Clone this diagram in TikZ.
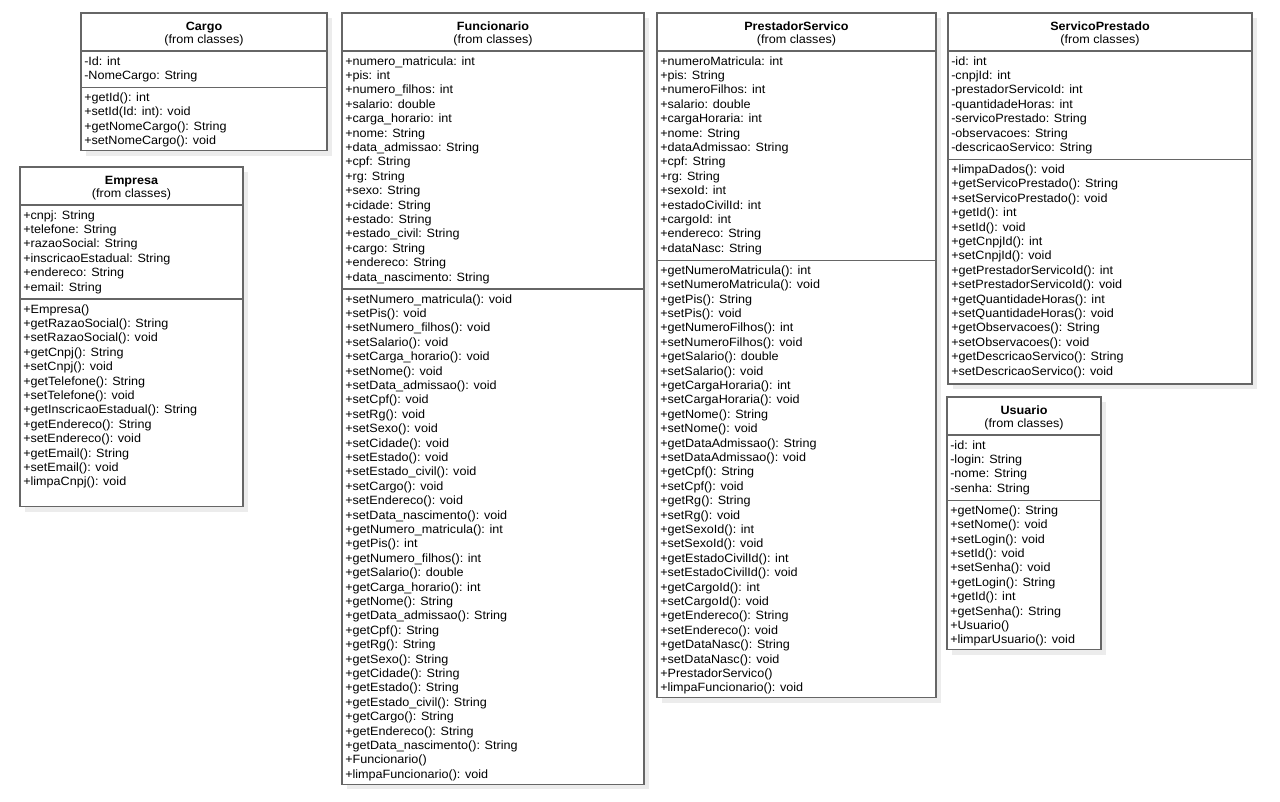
\documentclass[tikz,border=0pt]{standalone}
\usepackage{fontspec}
\setmainfont{Liberation Sans}[FakeStretch=1.05]
\definecolor{bordc}{RGB}{102,102,102}
\definecolor{shadc}{RGB}{236,236,236}
\tikzset{
  boxline/.style={draw=bordc, line width=0.9pt},
  shadowbox/.style={fill=shadc},
  titletext/.style={inner sep=0pt, anchor=base, font=\fontsize{9}{10.8}\selectfont},
  listtext/.style={inner sep=0pt, anchor=base west, font=\fontsize{9}{10.8}\selectfont},
}
% #1 name, #2 left, #3 right, #4 top, #5 n attrs, #6 n ops, #7 extra bottom, #8 attrs, #9 ops
\newcommand{\umlclass}[9]{%
  \pgfmathsetmacro\umlSA{#4+38}%
  \pgfmathsetmacro\umlAO{\umlSA+10}%
  \pgfmathsetmacro\umlSB{\umlAO+(#5-1)*14.4+12}%
  \pgfmathsetmacro\umlMO{\umlSB+10}%
  \pgfmathsetmacro\umlBT{\umlMO+(#6-1)*14.4+10+#7}%
  \pgfmathsetmacro\umlMX{(#2+#3)/2}%
  \fill[shadowbox] (#2+5,#4+5) rectangle (#3+5,\umlBT+5);
  \draw[boxline, fill=white] (#2,#4) rectangle (#3,\umlBT);
  \draw[boxline] (#2,\umlSA) -- (#3,\umlSA);
  \draw[boxline] (#2,\umlSB) -- (#3,\umlSB);
  \node[titletext] (#1-title) at (\umlMX,#4+17) {\textbf{#1}};
  \node[titletext] (#1-from) at (\umlMX,#4+30) {(from classes)};
  \node[listtext] (#1-attrs) at (#2+3,\umlAO+4) {\parbox[t]{200pt}{#8}};
  \node[listtext] (#1-ops) at (#2+3,\umlMO+4) {\parbox[t]{200pt}{#9}};
}
\begin{document}
\begin{tikzpicture}[x=0.75pt,y=-0.75pt]
\useasboundingbox[fill=white] (0,0) rectangle (1280,801);

\umlclass{Cargo}{81}{327}{13}{2}{4}{0}{%
-Id: int\\
-NomeCargo: String}{%
+getId(): int\\
+setId(Id: int): void\\
+getNomeCargo(): String\\
+setNomeCargo(): void}

\umlclass{Empresa}{20}{243}{167}{6}{13}{15}{%
+cnpj: String\\
+telefone: String\\
+razaoSocial: String\\
+inscricaoEstadual: String\\
+endereco: String\\
+email: String}{%
+Empresa()\\
+getRazaoSocial(): String\\
+setRazaoSocial(): void\\
+getCnpj(): String\\
+setCnpj(): void\\
+getTelefone(): String\\
+setTelefone(): void\\
+getInscricaoEstadual(): String\\
+getEndereco(): String\\
+setEndereco(): void\\
+getEmail(): String\\
+setEmail(): void\\
+limpaCnpj(): void}

\umlclass{Funcionario}{342}{644}{13}{16}{34}{0}{%
+numero\_matricula: int\\
+pis: int\\
+numero\_filhos: int\\
+salario: double\\
+carga\_horario: int\\
+nome: String\\
+data\_admissao: String\\
+cpf: String\\
+rg: String\\
+sexo: String\\
+cidade: String\\
+estado: String\\
+estado\_civil: String\\
+cargo: String\\
+endereco: String\\
+data\_nascimento: String}{%
+setNumero\_matricula(): void\\
+setPis(): void\\
+setNumero\_filhos(): void\\
+setSalario(): void\\
+setCarga\_horario(): void\\
+setNome(): void\\
+setData\_admissao(): void\\
+setCpf(): void\\
+setRg(): void\\
+setSexo(): void\\
+setCidade(): void\\
+setEstado(): void\\
+setEstado\_civil(): void\\
+setCargo(): void\\
+setEndereco(): void\\
+setData\_nascimento(): void\\
+getNumero\_matricula(): int\\
+getPis(): int\\
+getNumero\_filhos(): int\\
+getSalario(): double\\
+getCarga\_horario(): int\\
+getNome(): String\\
+getData\_admissao(): String\\
+getCpf(): String\\
+getRg(): String\\
+getSexo(): String\\
+getCidade(): String\\
+getEstado(): String\\
+getEstado\_civil(): String\\
+getCargo(): String\\
+getEndereco(): String\\
+getData\_nascimento(): String\\
+Funcionario()\\
+limpaFuncionario(): void}

\umlclass{PrestadorServico}{657}{936}{13}{14}{30}{0}{%
+numeroMatricula: int\\
+pis: String\\
+numeroFilhos: int\\
+salario: double\\
+cargaHoraria: int\\
+nome: String\\
+dataAdmissao: String\\
+cpf: String\\
+rg: String\\
+sexoId: int\\
+estadoCivilId: int\\
+cargoId: int\\
+endereco: String\\
+dataNasc: String}{%
+getNumeroMatricula(): int\\
+setNumeroMatricula(): void\\
+getPis(): String\\
+setPis(): void\\
+getNumeroFilhos(): int\\
+setNumeroFilhos(): void\\
+getSalario(): double\\
+setSalario(): void\\
+getCargaHoraria(): int\\
+setCargaHoraria(): void\\
+getNome(): String\\
+setNome(): void\\
+getDataAdmissao(): String\\
+setDataAdmissao(): void\\
+getCpf(): String\\
+setCpf(): void\\
+getRg(): String\\
+setRg(): void\\
+getSexoId(): int\\
+setSexoId(): void\\
+getEstadoCivilId(): int\\
+setEstadoCivilId(): void\\
+getCargoId(): int\\
+setCargoId(): void\\
+getEndereco(): String\\
+setEndereco(): void\\
+getDataNasc(): String\\
+setDataNasc(): void\\
+PrestadorServico()\\
+limpaFuncionario(): void}

\umlclass{ServicoPrestado}{948}{1252}{13}{7}{15}{3}{%
-id: int\\
-cnpjId: int\\
-prestadorServicoId: int\\
-quantidadeHoras: int\\
-servicoPrestado: String\\
-observacoes: String\\
-descricaoServico: String}{%
+limpaDados(): void\\
+getServicoPrestado(): String\\
+setServicoPrestado(): void\\
+getId(): int\\
+setId(): void\\
+getCnpjId(): int\\
+setCnpjId(): void\\
+getPrestadorServicoId(): int\\
+setPrestadorServicoId(): void\\
+getQuantidadeHoras(): int\\
+setQuantidadeHoras(): void\\
+getObservacoes(): String\\
+setObservacoes(): void\\
+getDescricaoServico(): String\\
+setDescricaoServico(): void}

\umlclass{Usuario}{947}{1101}{397}{4}{10}{0}{%
-id: int\\
-login: String\\
-nome: String\\
-senha: String}{%
+getNome(): String\\
+setNome(): void\\
+setLogin(): void\\
+setId(): void\\
+setSenha(): void\\
+getLogin(): String\\
+getId(): int\\
+getSenha(): String\\
+Usuario()\\
+limparUsuario(): void}
\end{tikzpicture}
\end{document}
